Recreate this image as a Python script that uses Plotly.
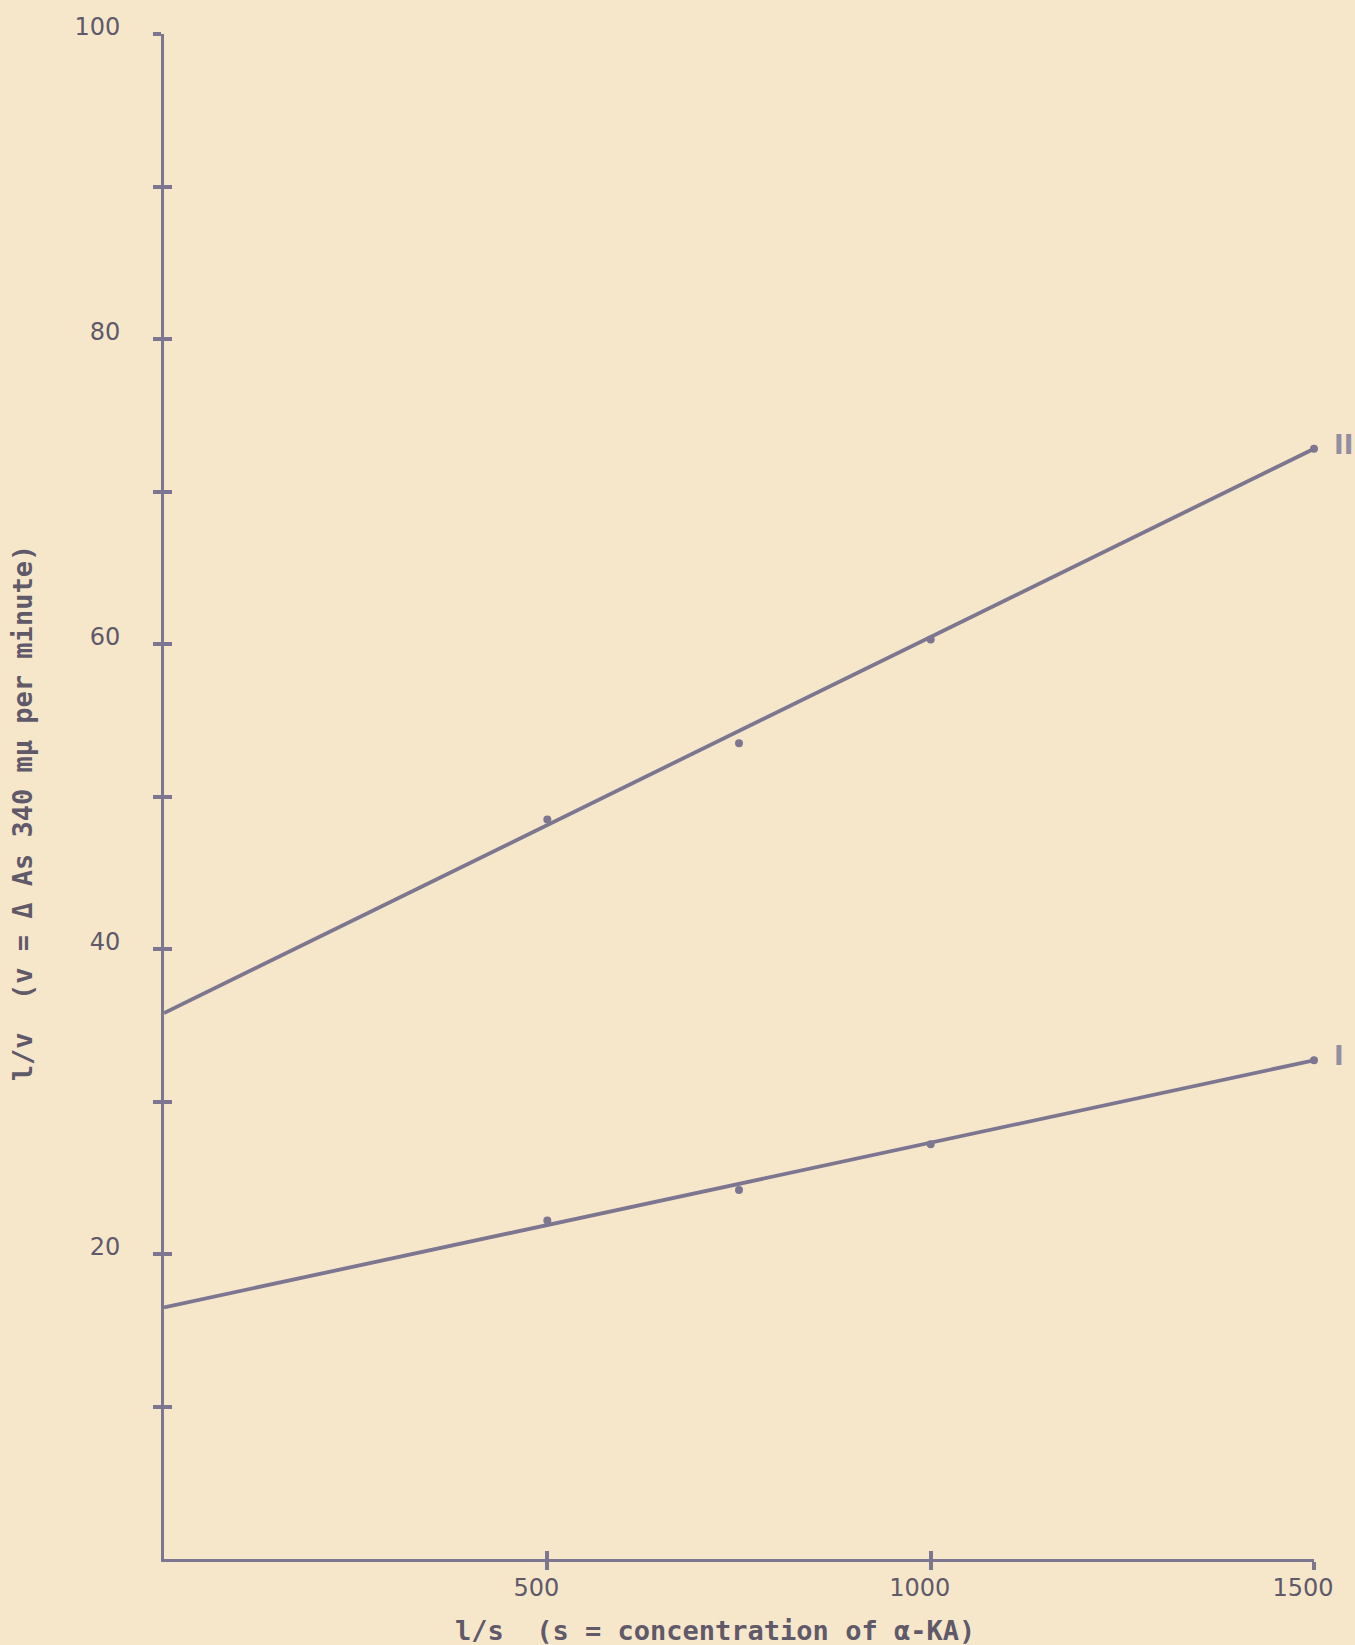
import plotly.graph_objects as go

# Lineweaver-Burk data: 1/s against 1/v for two conditions
inv_s = [500, 750, 1000, 1500]
inv_v_I = [22.2, 24.2, 27.2, 32.7]
inv_v_II = [48.5, 53.5, 60.3, 72.8]

# fitted straight lines, from the 1/v intercept out to 1/s = 1500
fit_x = [0, 1500]
fit_I = [16.5, 32.7]
fit_II = [35.8, 72.8]

y_tickvals = [10, 20, 30, 40, 50, 60, 70, 80, 90, 100]
y_ticktext = ["", "20", "", "40", "", "60", "", "80", "", "100"]
x_tickvals = [500, 1000, 1500]
x_ticktext = ["500", "1000", "1500"]

ink = "#7c7690"
text_ink = "#5f596a"
paper = "#f6e7ca"

fig = go.Figure()

for fy, py, name in [(fit_I, inv_v_I, "I"), (fit_II, inv_v_II, "II")]:
    fig.add_trace(go.Scatter(
        x=fit_x, y=fy, mode="lines",
        line=dict(color=ink, width=3.8),
        hoverinfo="skip", showlegend=False, cliponaxis=False,
    ))
    fig.add_trace(go.Scatter(
        x=inv_s, y=py, mode="markers",
        marker=dict(color=ink, size=8),
        name=name, showlegend=False, cliponaxis=False,
    ))
    fig.add_annotation(
        x=inv_s[-1], y=py[-1], text="<b>" + name + "</b>", showarrow=False,
        xanchor="left", xshift=18, yshift=4,
        font=dict(family="DejaVu Sans", size=26, color="#948fa0"),
    )

# second pair of axes draws the inner half of each crossing tick
fig.add_trace(go.Scatter(x=[None], y=[None], xaxis="x2", yaxis="y2",
                         showlegend=False, hoverinfo="skip"))

tick_font = dict(family="DejaVu Sans", size=24, color=text_ink)

fig.update_layout(
    width=1355, height=1645,
    margin=dict(l=164, r=41, t=34, b=86),
    paper_bgcolor=paper, plot_bgcolor=paper,
    xaxis=dict(
        range=[0, 1500], showgrid=False, zeroline=False,
        showline=True, linecolor=ink, linewidth=3,
        tickvals=x_tickvals, ticktext=x_ticktext,
        ticks="outside", ticklen=8, tickwidth=4, tickcolor=ink,
        tickfont=tick_font, ticklabelstandoff=-3, ticklabelshift=-11,
    ),
    yaxis=dict(
        range=[0, 100], showgrid=False, zeroline=False,
        showline=True, linecolor=ink, linewidth=3,
        tickvals=y_tickvals, ticktext=y_ticktext,
        ticks="outside", ticklen=8, tickwidth=4, tickcolor=ink,
        tickfont=tick_font, ticklabelstandoff=28, ticklabelshift=-7,
    ),
    xaxis2=dict(
        range=[0, 1500], overlaying="x", anchor="y2", showgrid=False,
        zeroline=False, showline=False, tickvals=x_tickvals,
        showticklabels=False, ticks="inside", ticklen=8, tickwidth=4,
        tickcolor=ink,
    ),
    yaxis2=dict(
        range=[0, 100], overlaying="y", anchor="x2", showgrid=False,
        zeroline=False, showline=False, tickvals=y_tickvals,
        showticklabels=False, ticks="inside", ticklen=8, tickwidth=4,
        tickcolor=ink,
    ),
)

title_font = dict(family="DejaVu Sans Mono", size=27, color=text_ink)

fig.add_annotation(
    text="<b>l/s  (s = concentration of α-KA)</b>",
    xref="paper", yref="paper", x=0.479, y=0, yshift=-71,
    xanchor="center", yanchor="middle", showarrow=False,
    font=title_font,
)
fig.add_annotation(
    text="<b>l/v  (v = Δ As 340 mμ per minute)</b>",
    xref="paper", yref="paper", x=0, xshift=-142, y=0.489,
    xanchor="center", yanchor="middle", showarrow=False,
    textangle=-90, font=title_font,
)

fig.write_html("out.html")
